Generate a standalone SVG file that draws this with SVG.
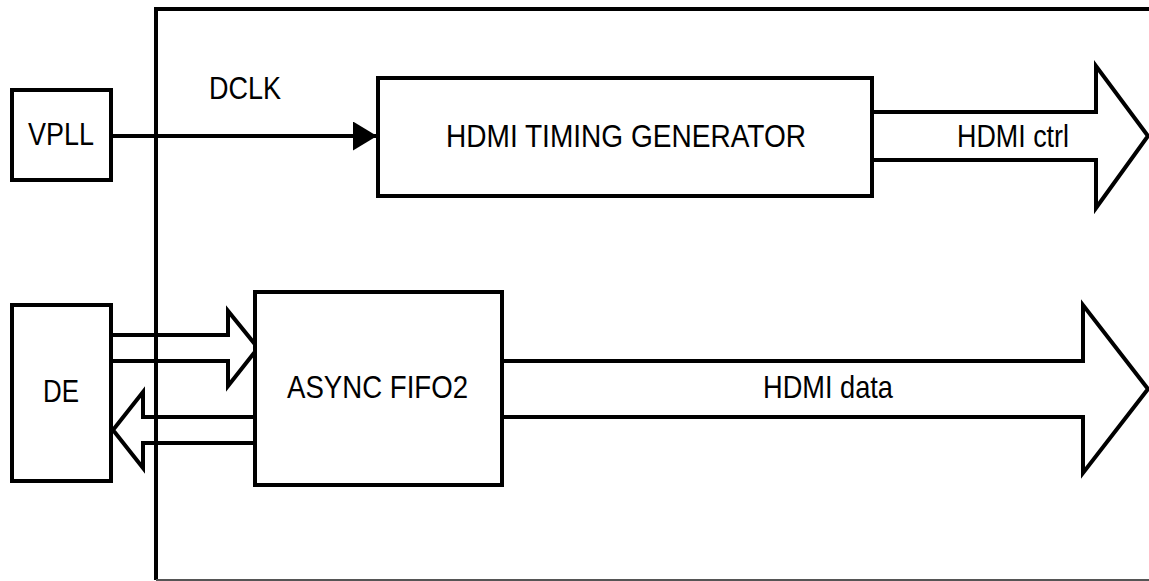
<svg xmlns="http://www.w3.org/2000/svg" width="1149" height="581" viewBox="0 0 1149 581">
<style>
.box{fill:#fff;stroke:#000;stroke-width:4}
.frame{fill:none;stroke:#000;stroke-width:4}
.wire{fill:none;stroke:#000;stroke-width:4;stroke-linejoin:miter}
.bus{fill:none;stroke:#000;stroke-width:4;stroke-linejoin:miter}
.t{font-family:"Liberation Sans",Arial,sans-serif;font-size:32px;fill:#000}
</style>
<defs>
<marker id="ah" markerUnits="userSpaceOnUse" markerWidth="24" markerHeight="30" refX="23" refY="14.5" orient="auto">
<path d="M0,0 L24,14.5 L0,29 Z" fill="#000"/>
</marker>
</defs>
<rect width="1149" height="581" fill="#fff"/>
<g id="frame">
<path class="frame" d="M1149,9 H156 V580"/>
<line x1="156" y1="580" x2="1149" y2="580" stroke="#555" stroke-width="2"/>
</g>
<g id="connectors">
<line class="wire" x1="111" y1="136" x2="376" y2="136" marker-end="url(#ah)"/>
<text class="t" x="209" y="99" textLength="72" lengthAdjust="spacingAndGlyphs">DCLK</text>
<path class="bus" d="M111,335 H228 V311 L258,348 L228,386 V361 H111"/>
<path class="bus" d="M255,417 H143 V392 L113,430 L143,468 V443 H255"/>
<path class="bus" d="M872,112 H1096 V66 L1148,136 L1096,208 V160 H872"/>
<text class="t" x="957" y="147" textLength="112" lengthAdjust="spacingAndGlyphs">HDMI ctrl</text>
<path class="bus" d="M502,361 H1083 V305 L1148,389 L1083,473 V417 H502"/>
<text class="t" x="763" y="398" textLength="130" lengthAdjust="spacingAndGlyphs">HDMI data</text>
</g>
<g id="vpll">
<rect class="box" x="12" y="90" width="99" height="90"/>
<text class="t" x="28" y="145" textLength="66" lengthAdjust="spacingAndGlyphs">VPLL</text>
</g>
<g id="timing-gen">
<rect class="box" x="378" y="78" width="494" height="118"/>
<text class="t" x="446" y="147" textLength="360" lengthAdjust="spacingAndGlyphs">HDMI TIMING GENERATOR</text>
</g>
<g id="de">
<rect class="box" x="12" y="305" width="99" height="176"/>
<text class="t" x="43" y="402" textLength="36" lengthAdjust="spacingAndGlyphs">DE</text>
</g>
<g id="fifo">
<rect class="box" x="255" y="292" width="247" height="193"/>
<text class="t" x="287" y="398" textLength="181" lengthAdjust="spacingAndGlyphs">ASYNC FIFO2</text>
</g>
</svg>
